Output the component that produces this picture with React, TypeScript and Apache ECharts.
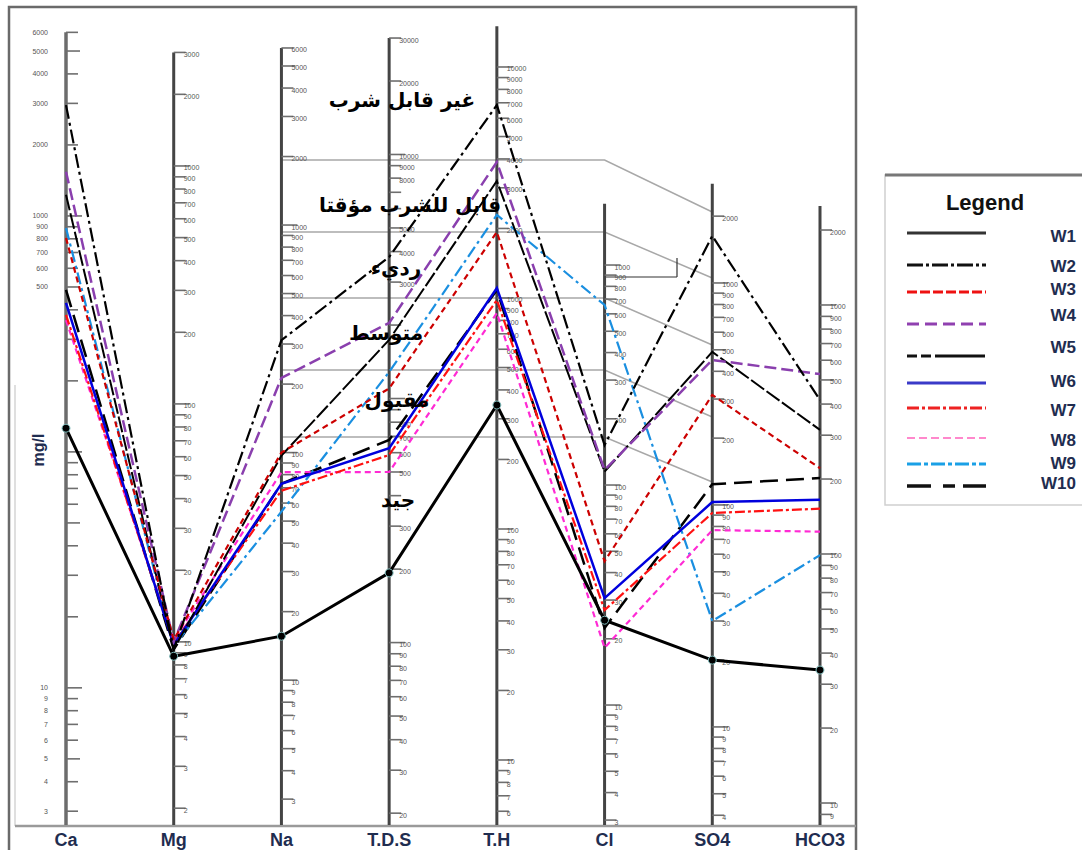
import React, { useEffect, useRef } from "react";
import * as echarts from "echarts";

// ---- Axes (parameters) and their log-scale ranges (mg/l) ----
const parameters = ["Ca", "Mg", "Na", "T.D.S", "T.H", "Cl", "SO4", "HCO3"];
const axisMin = [2.7, 1.75, 2.38, 18.4, 5.39, 2.94, 3.73, 8.39];
const axisMax = [6260, 3800, 7344, 32980, 14750, 11950, 14080, 12950];
const axisTop = [6000, 3000, 6000, 30000, 15000, 1900, 2800, 2500];

// ---- Wells ----
const wellNames = ["W1", "W2", "W3", "W4", "W5", "W6", "W7", "W8", "W9", "W10"];
const w1 = [126, 8.7, 15.6, 193, 344, 24.3, 20, 34.2];
const w2 = [2950, 9.3, 312, 3800, 6850, 152, 1630, 415];
const w3 = [807, 10.2, 100, 1100, 1930, 45, 313, 221];
const w4 = [1540, 10, 213, 2040, 3880, 117, 450, 528];
const w5 = [1230, 9.3, 97, 1740, 3210, 115, 489, 315];
const w6 = [428, 9.7, 73, 626, 1105, 30.6, 103, 165];
const w7 = [381, 9.9, 68, 587, 980, 27, 92, 152];
const w8 = [362, 10.2, 82, 500, 861, 18.2, 77, 123];
const w9 = [889, 9.6, 55, 1284, 2290, 658, 30, 99];
const w10 = [486, 9.3, 73, 676, 1083, 22.4, 124, 202];
const wellValues = [w1, w2, w3, w4, w5, w6, w7, w8, w9, w10];

// ---- Texts ----
const classLabels = ["غير قابل شرب", "قابل للشرب مؤقتا", "رديء", "متوسط", "مقبول", "جيد"];
const legendTitle = "Legend";
const unitLabel = "mg/l";

// ---- Styles ----
const wellStyles: { color: string; width: number; dash: any; legendColor: string; legendWidth: number }[] = [
  { color: "#000000", width: 3, dash: "solid", legendColor: "#333333", legendWidth: 3 },
  { color: "#000000", width: 2.2, dash: [14, 4, 3, 4], legendColor: "#111111", legendWidth: 3 },
  { color: "#cc0000", width: 2.2, dash: [6, 4], legendColor: "#ee1111", legendWidth: 3 },
  { color: "#8a3fae", width: 2.5, dash: [12, 5], legendColor: "#9040b0", legendWidth: 3 },
  { color: "#000000", width: 2, dash: [16, 3], legendColor: "#111111", legendWidth: 3 },
  { color: "#0000dd", width: 2.5, dash: "solid", legendColor: "#3a3ac8", legendWidth: 3 },
  { color: "#ff1111", width: 2.2, dash: [10, 3, 3, 3], legendColor: "#ee2222", legendWidth: 3 },
  { color: "#ff2ad4", width: 2.2, dash: [6, 4], legendColor: "#ff88cc", legendWidth: 2 },
  { color: "#1a8fe0", width: 2.2, dash: [12, 4, 3, 4], legendColor: "#1aa0e6", legendWidth: 3 },
  { color: "#000000", width: 2.5, dash: [18, 8], legendColor: "#111111", legendWidth: 3.5 },
];
const legendDash: any[] = [
  null,
  [16, 3, 3, 3],
  [10, 3],
  [12, 6],
  [10, 4, 10, 4, 40, 0],
  null,
  [12, 3, 3, 3],
  [8, 4],
  [14, 3, 4, 3],
  [24, 12, 12, 8],
];
const legendLineY = [233, 265, 292, 324, 356, 383, 408, 438, 464, 486];
const legendLabelY = [236, 266, 289, 315, 347, 381, 410, 440, 463, 483];
const classLabelPos = [
  [402, 100],
  [410, 205],
  [396, 268],
  [386, 333],
  [397, 400],
  [398, 500],
];
const classLineY = [
  [160, 212],
  [232, 278],
  [298, 345],
  [370, 417],
  [437, 482],
];

export default function App() {
  const ref = useRef<HTMLDivElement>(null);
  useEffect(() => {
    if (!ref.current) return;
    const chart = echarts.init(ref.current, null, { renderer: "svg" });
    const nameStyle = {
      fontSize: 18,
      fontWeight: "bold",
      fontFamily: "Liberation Sans, Arial, sans-serif",
      color: "#1f2d50",
    };
    chart.setOption({
      animation: false,
      backgroundColor: "#ffffff",
      parallel: {
        left: 66,
        right: 262,
        top: 28,
        bottom: 28,
        layout: "horizontal",
      },
      parallelAxis: parameters.map((p, i) => ({
        dim: i,
        name: p,
        type: "log",
        logBase: 10,
        min: axisMin[i],
        max: axisMax[i],
        axisLine: { show: false, lineStyle: { opacity: 0 } },
        axisTick: { show: false, lineStyle: { opacity: 0 } },
        axisLabel: { show: false, formatter: () => "", color: "rgba(0,0,0,0)" },
        splitLine: { show: false },
        nameLocation: "start",
        nameGap: 9,
        nameTextStyle: nameStyle,
      })),
      series: wellValues
        .map((vals, idx) => ({
          type: "parallel",
          name: wellNames[idx],
          data: [vals],
          silent: true,
          smooth: false,
          inactiveOpacity: 1,
          activeOpacity: 1,
          lineStyle: {
            color: wellStyles[idx].color,
            width: wellStyles[idx].width,
            type: wellStyles[idx].dash,
            opacity: 1,
          },
          emphasis: { disabled: true },
        }))
        .reverse(),
    });

    let cs: any = null;
    try {
      cs = (chart as any).getModel().getComponent("parallel", 0).coordinateSystem;
    } catch (e) {
      cs = null;
    }
    const pt = (i: number, v: number): number[] => {
      if (cs && cs.dataToPoint) {
        const p = cs.dataToPoint(v, "dim" + i);
        if (p && isFinite(p[0]) && isFinite(p[1])) return p;
      }
      const x = 66 + (i * 754) / 7;
      const t = (Math.log10(v) - Math.log10(axisMin[i])) / (Math.log10(axisMax[i]) - Math.log10(axisMin[i]));
      return [x, 822 - t * 794];
    };

    const els: any[] = [];
    const line = (x1: number, y1: number, x2: number, y2: number, stroke: string, lw: number, dash?: any, z = 0) =>
      els.push({
        type: "line",
        silent: true,
        z,
        shape: { x1, y1, x2, y2 },
        style: { stroke, lineWidth: lw, lineDash: dash || null },
      });
    const text = (t: string, x: number, y: number, font: string, fill: string, align = "left", extra: any = {}) =>
      els.push({
        type: "text",
        silent: true,
        x,
        y,
        ...extra,
        style: {
          text: t,
          x: 0,
          y: 0,
          font,
          fill,
          align,
          textAlign: align,
          verticalAlign: "middle",
          textVerticalAlign: "middle",
        },
      });

    // frame
    els.push({
      type: "polyline",
      silent: true,
      shape: { points: [[9, 850], [9, 7], [856, 7], [856, 850]] },
      style: { stroke: "#6a6a6a", lineWidth: 2.5, fill: null },
    });
    line(15, 385, 15, 826, "#d4d4d4", 1.5);
    line(15, 826, 856, 826, "#9a9a9a", 2.5);

    // class boundary lines
    const xNa = pt(2, 10)[0];
    const xCl = pt(5, 10)[0];
    const xSO4 = pt(6, 10)[0];
    classLineY.forEach(([ya, yb]) => {
      els.push({
        type: "polyline",
        silent: true,
        shape: { points: [[xNa, ya], [xCl, ya], [xSO4, yb]] },
        style: { stroke: "#a8a8a8", lineWidth: 1.5, fill: null },
      });
    });
    line(xCl, 277, 677, 277, "#333", 1.2);
    line(677, 258, 677, 277, "#333", 1.2);

    // axes, ticks, tick labels
    parameters.forEach((_, i) => {
      const b = pt(i, axisMin[i]);
      const tp = pt(i, axisTop[i]);
      line(b[0], b[1] + 3, tp[0], tp[1], i === 0 ? "#6c6c6c" : "#444444", i === 0 ? 3.5 : 3);
      const k0 = Math.floor(Math.log10(axisMin[i]));
      const k1 = Math.ceil(Math.log10(axisTop[i]));
      for (let k = k0; k <= k1; k++) {
        for (let d = 1; d <= 9; d++) {
          const v = Math.round(d * Math.pow(10, k));
          if (v < axisMin[i] * 1.02 || v > axisTop[i] * 1.001) continue;
          const p = pt(i, v);
          const len = d === 1 ? 16 : d === 5 ? 14 : 12;
          line(p[0], p[1], p[0] + len, p[1], "#6e6e6e", 1.6);
          const lbl = String(v);
          if (i === 0) {
            if (v >= 500 || v <= 10) text(lbl, p[0] - 18, p[1], "7px sans-serif", "#555", "right");
          } else {
            // labels hidden beneath the class captions are left out on the T.D.S axis
            const covered =
              i === 3 && classLabelPos.some(([, cy]) => Math.abs(cy - (p[1] + 2)) < 14);
            if (!covered) text(lbl, p[0] + 10, p[1] + 2, "7px sans-serif", "#555", "left");
          }
        }
      }
    });

    // W1 node markers
    w1.forEach((v, i) => {
      const p = pt(i, v);
      els.push({
        type: "circle",
        silent: true,
        z: 10,
        shape: { cx: p[0], cy: p[1], r: 4 },
        style: { fill: "#000", stroke: "#7fbcbc", lineWidth: 1 },
      });
    });

    // class labels (Arabic)
    classLabels.forEach((t, i) => {
      text(t, classLabelPos[i][0], classLabelPos[i][1], 'bold 20px "DejaVu Sans", sans-serif', "#000", "center", { z: 5 });
    });

    // unit label
    text(unitLabel, 38, 450, 'bold 16px "Liberation Sans", Arial, sans-serif', "#1f2d50", "center", {
      rotation: Math.PI / 2,
    });

    // legend box
    els.push({
      type: "rect",
      silent: true,
      shape: { x: 885, y: 175, width: 210, height: 330 },
      style: { fill: "#fff", stroke: "#d0d0d0", lineWidth: 1.5 },
    });
    line(885, 175, 1082, 175, "#777", 3);
    text(legendTitle, 985, 202, 'bold 22px "Liberation Sans", Arial, sans-serif', "#111", "center");
    wellNames.forEach((n, i) => {
      const s = wellStyles[i];
      line(907, legendLineY[i], 986, legendLineY[i], s.legendColor, s.legendWidth, legendDash[i], 3);
      text(n, 1076, legendLabelY[i], 'bold 17px "Liberation Sans", Arial, sans-serif', "#1f2d50", "right");
    });

    chart.setOption({ graphic: { elements: els } });
    return () => chart.dispose();
  }, []);
  return (
    <div
      ref={ref}
      style={{ position: "fixed", left: 0, top: 0, width: 1082, height: 850, background: "#fff" }}
    />
  );
}
